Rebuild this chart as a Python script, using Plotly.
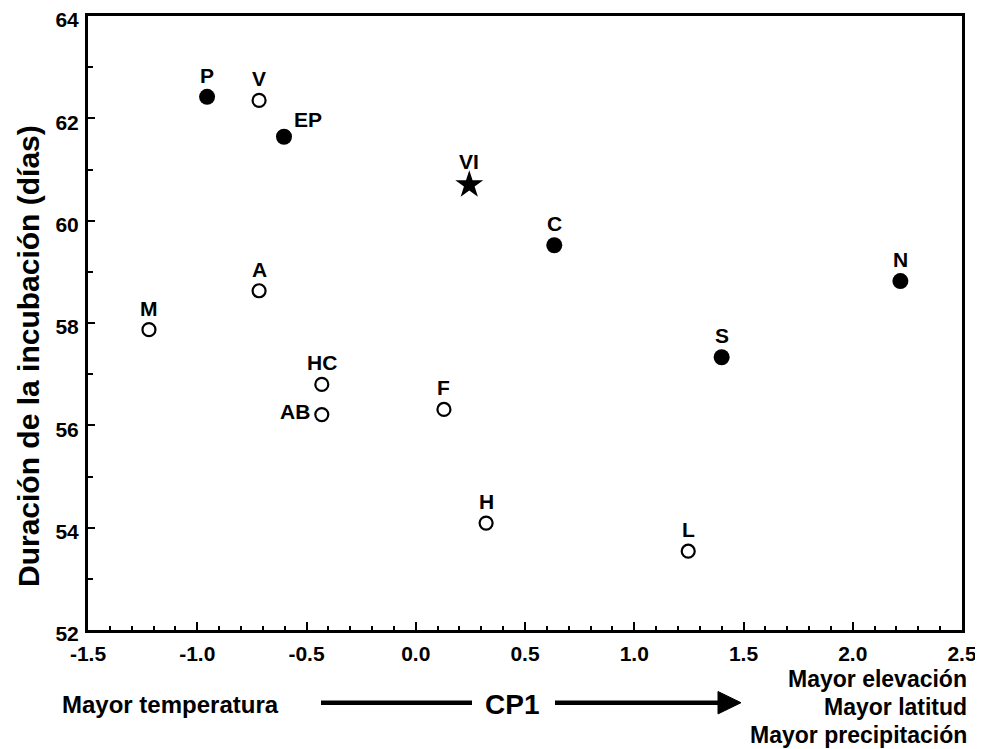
import plotly.graph_objects as go

# ---- data ----
labels = ["P", "V", "EP", "VI", "C", "N", "A", "M", "S", "HC", "AB", "F", "H", "L"]
cp1 = [-0.955, -0.717, -0.603, 0.245, 0.634, 2.218, -0.717, -1.221, 1.400, -0.430, -0.430, 0.129, 0.322, 1.247]
incubacion = [62.42, 62.35, 61.64, 60.70, 59.52, 58.82, 58.63, 57.87, 57.33, 56.80, 56.21, 56.31, 54.09, 53.54]
grupo = ["filled", "open", "filled", "star", "filled", "filled", "open", "open", "filled", "open", "open", "open", "open", "open"]

x_tickvals = [-1.5, -1.0, -0.5, 0.0, 0.5, 1.0, 1.5, 2.0, 2.5]
x_ticktext = ["-1.5", "-1.0", "-0.5", "0.0", "0.5", "1.0", "1.5", "2.0", "2.5"]
y_tickvals = [52, 54, 56, 58, 60, 62, 64]
y_ticktext = ["52", "54", "56", "58", "60", "62", "64"]

y_title = "Duración de la incubación (días)"
x_title = "CP1"
left_note = "Mayor temperatura"
right_notes = ["Mayor elevación", "Mayor latitud", "Mayor precipitación"]

# ---- styles ----
FONT = "Liberation Sans, Arial, sans-serif"
marker_styles = {
    "filled": dict(symbol="circle", size=16, color="black", line=dict(width=0)),
    "open": dict(symbol="circle-open", size=13, color="black", line=dict(width=2.2)),
    "star": dict(symbol="star", size=21, color="black", line=dict(width=0)),
}
# label placement per point (xanchor, yanchor, xshift, yshift)
label_pos = {"EP": ("left", "bottom", 8, 4), "AB": ("right", "middle", -10, 3)}

# page body has an 8px margin: the figure is sized/offset so the plot area
# lands at x 88..962, y 16..630 of the window
BODY = 8
W, H = 983 - BODY, 749 - BODY
ML, MT, MR, MB = 88 - BODY, 16 - BODY, 21, 119

fig = go.Figure()
for g in ["open", "filled", "star"]:
    idx = [i for i, gg in enumerate(grupo) if gg == g]
    fig.add_trace(go.Scatter(
        x=[cp1[i] for i in idx], y=[incubacion[i] for i in idx],
        mode="markers", marker=marker_styles[g], showlegend=False,
        hoverinfo="skip", cliponaxis=False))

for lab, xv, yv, g in zip(labels, cp1, incubacion, grupo):
    xa, ya, xs, ys = label_pos.get(lab, ("center", "bottom", 0, 8 if g != "star" else 10))
    fig.add_annotation(x=xv, y=yv, text=lab, showarrow=False, xanchor=xa, yanchor=ya,
                       xshift=xs, yshift=ys,
                       font=dict(family=FONT, size=21, color="black", weight="bold"))

axis_common = dict(showline=True, linewidth=3, linecolor="black", mirror=True,
                   showgrid=False, zeroline=False, ticks="inside", tickwidth=2,
                   tickcolor="black", automargin=False, ticklabeloverflow="allow",
                   tickfont=dict(family=FONT, size=21, color="black", weight="bold"))

fig.update_xaxes(range=[-1.5, 2.5], tickvals=x_tickvals, ticktext=x_ticktext, ticklen=8,
                 minor=dict(dtick=0.1, ticks="inside", ticklen=4, tickwidth=2, tickcolor="black"),
                 ticklabelstandoff=3, **axis_common)
fig.update_yaxes(range=[52, 64], tickvals=y_tickvals, ticktext=y_ticktext, ticklen=7,
                 minor=dict(dtick=1, ticks="inside", ticklen=5, tickwidth=2, tickcolor="black"),
                 ticklabelstandoff=2, ticklabelshift=4, **axis_common)

PW = W - ML - MR
PH = H - MT - MB

def px(x):
    return (x - BODY - ML) / PW

def py(y):
    return (H - MB + BODY - y) / PH

# y-axis title
fig.add_annotation(xref="paper", yref="paper", x=px(28), y=py(356), text=y_title,
                   textangle=-90, showarrow=False, xanchor="center", yanchor="middle",
                   font=dict(family=FONT, size=30, color="black", weight="bold"))

# bottom notes
fig.add_annotation(xref="paper", yref="paper", x=px(170), y=py(704), text=left_note,
                   showarrow=False, xanchor="center", yanchor="middle",
                   font=dict(family=FONT, size=24, color="black", weight="bold"))
fig.add_annotation(xref="paper", yref="paper", x=px(511.5), y=py(704), text=x_title,
                   showarrow=False, xanchor="center", yanchor="middle",
                   font=dict(family=FONT, size=28, color="black", weight="bold"))
for txt, yy in zip(right_notes, [679, 707, 735]):
    fig.add_annotation(xref="paper", yref="paper", x=px(969), y=py(yy), text=txt,
                       showarrow=False, xanchor="right", yanchor="middle",
                       font=dict(family=FONT, size=23, color="black", weight="bold"))

# arrow of the CP1 axis (paper coordinates)
fig.add_shape(type="line", xref="paper", yref="paper", x0=px(321), x1=px(472), y0=py(702.7), y1=py(702.7),
              line=dict(color="black", width=4.5))
fig.add_shape(type="line", xref="paper", yref="paper", x0=px(555), x1=px(720), y0=py(702.7), y1=py(702.7),
              line=dict(color="black", width=4.5))
fig.add_shape(type="path", xref="paper", yref="paper",
              path=f"M {px(718)},{py(691.5)} L {px(741)},{py(702.7)} L {px(718)},{py(713.9)} Z",
              fillcolor="black", line=dict(color="black", width=1))

fig.update_layout(width=W, height=H, plot_bgcolor="white", paper_bgcolor="white",
                  template="none",
                  margin=dict(l=ML, r=MR, t=MT, b=MB, autoexpand=False),
                  font=dict(family=FONT, color="black"))

fig.write_html("out.html")
